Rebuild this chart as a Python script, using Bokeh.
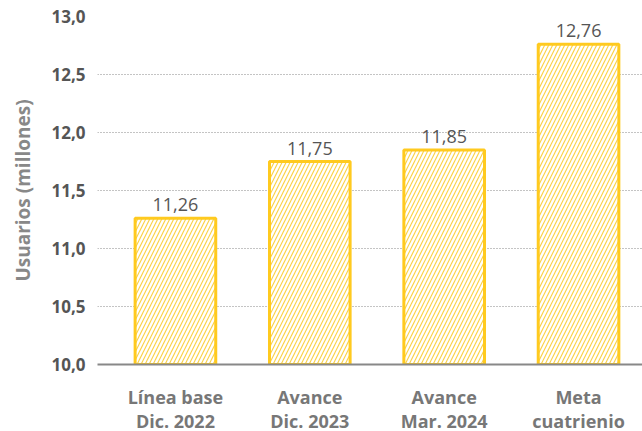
from bokeh.plotting import figure
from bokeh.models import ColumnDataSource, Range1d, FixedTicker, LabelSet
from bokeh.core.properties import value
from bokeh.embed import file_html
from bokeh.resources import INLINE

categories = ["Línea base\nDic. 2022", "Avance\nDic. 2023", "Avance\nMar. 2024", "Meta\ncuatrienio"]
values = [11.26, 11.75, 11.85, 12.76]
value_labels = ["11,26", "11,75", "11,85", "12,76"]
y_ticks = [10.0, 10.5, 11.0, 11.5, 12.0, 12.5, 13.0]
y_tick_labels = ["10,0", "10,5", "11,0", "11,5", "12,0", "12,5", "13,0"]

FONT = "Open Sans"

xs = list(range(len(categories)))
src = ColumnDataSource(dict(x=xs, top=values, lab=value_labels))

p = figure(frame_width=545, frame_height=348, output_backend="svg", toolbar_location=None,
           x_range=Range1d(-0.58, 3.476), y_range=Range1d(10, 13),
           min_border_left=97, min_border_right=0, min_border_top=16, min_border_bottom=0)
p.outline_line_color = None
p.background_fill_color = "white"

p.vbar(x="x", top="top", bottom=10, width=0.6, source=src,
       fill_color="white", line_color="#FFCA1F", line_width=3,
       hatch_pattern="/", hatch_color="#FAD24A", hatch_scale=8, hatch_weight=1.2)

labels = LabelSet(x="x", y="top", text="lab", source=src, text_align="center",
                  text_baseline="bottom", y_offset=7, text_font_size="18px",
                  text_color="#555555", text_font=value(FONT))
p.add_layout(labels)

p.xaxis.ticker = FixedTicker(ticks=xs)
p.xaxis.major_label_overrides = {i: c for i, c in zip(xs, categories)}
p.xaxis.major_tick_line_color = None
p.xaxis.minor_tick_line_color = None
p.xaxis.axis_line_color = "#888888"
p.xaxis.axis_line_width = 2
p.xaxis.major_label_text_font = FONT
p.xaxis.major_label_text_font_style = "bold"
p.xaxis.major_label_text_font_size = "18px"
p.xaxis.major_label_text_color = "#777777"
p.xaxis.major_label_standoff = 14
p.xaxis.major_label_text_line_height = 1.0

p.yaxis.ticker = FixedTicker(ticks=y_ticks)
p.yaxis.major_label_overrides = {t: l for t, l in zip(y_ticks, y_tick_labels)}
p.yaxis.axis_line_color = None
p.yaxis.major_tick_line_color = None
p.yaxis.minor_tick_line_color = None
p.yaxis.major_label_text_font = FONT
p.yaxis.major_label_text_font_style = "bold"
p.yaxis.major_label_text_font_size = "17px"
p.yaxis.major_label_text_color = "#555555"
p.yaxis.major_label_standoff = 6
p.yaxis.axis_label = "Usuarios (millones)"
p.yaxis.axis_label_text_font = FONT
p.yaxis.axis_label_text_font_style = "bold"
p.yaxis.axis_label_text_font_size = "19px"
p.yaxis.axis_label_text_color = "#888888"
p.yaxis.axis_label_standoff = 12

p.xgrid.grid_line_color = None
p.ygrid.grid_line_color = "#888888"
p.ygrid.grid_line_dash = "1 2"
p.ygrid.grid_line_width = 1

open("out.html", "w").write(file_html(p, INLINE))
